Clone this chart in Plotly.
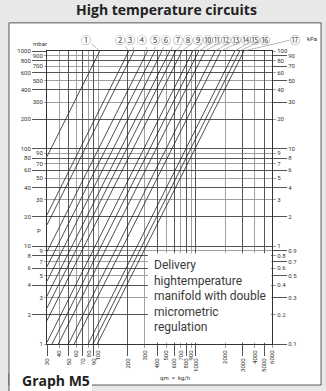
import plotly.graph_objects as go
import numpy as np

# pressure-drop curves: point where each curve enters the chart and where it meets the top line
curve_start_qm = [30, 30, 30, 30, 30, 30, 30, 30, 30, 30, 33.8, 39.2, 49.7, 56.9, 79, 88.5, 98]
curve_start_dp = [83, 21, 16.6, 8.8, 6.2, 4.4, 3.1, 2.34, 1.74, 1.04, 1, 1, 1, 1, 1, 1, 1]
curve_end_qm = [104, 206, 233, 320, 380, 450, 540, 620, 720, 930, 1070, 1240, 1570, 1800, 2500, 2800, 3100]
curve_end_dp = [1000, 1000, 1000, 1000, 1000, 1000, 1000, 1000, 1000, 1000, 1000, 1000, 1000, 1000, 1000, 1000, 1000]

# circled curve numbers above the chart
curve_names = [chr(0x2460 + i) for i in range(17)]  # ① .. ⑰
label_qm = [75, 167, 212, 281, 382, 494, 656, 830, 1050, 1329, 1642, 2030, 2568, 3250, 4017, 5083, 10300]
label_dp = [1327] * 17

# axis ticks (two label rows / columns on each side)
qm_ticks_upper = [40, 60, 80, 100, 300, 500, 700, 900, 2000, 4000, 6000]
qm_ticks_lower = [30, 50, 70, 90, 200, 400, 600, 800, 1000, 3000, 5000]
mbar_ticks_outer = [1000, 800, 600, 400, 200, 100, 80, 60, 40, 20, 10, 8, 6, 4, 2]
mbar_ticks_inner = [900, 700, 500, 300, 90, 70, 50, 30, 9, 7, 5, 3, 1]
kpa_ticks_outer = [90, 70, 50, 30, 10, 8, 6, 4, 2, 0.9, 0.7, 0.5, 0.3, 0.1]
kpa_ticks_inner = [100, 80, 60, 40, 20, 9, 7, 5, 3, 1, 0.8, 0.6, 0.4, 0.2]

TICKFONT = dict(family="Roboto, DejaVu Sans, sans-serif", size=6, color="#333")
DARK = "#555"
LIGHT = "#a0a0a0"

fig = go.Figure()

for x0, y0, x1, y1 in zip(curve_start_qm, curve_start_dp, curve_end_qm, curve_end_dp):
    fig.add_trace(go.Scatter(x=[x0, x1], y=[y0, y1], mode="lines",
                             line=dict(color="#222", width=0.8),
                             hoverinfo="skip", showlegend=False))

# circled numbers with leader lines to the curve tops (annotations on log axes take log10 values)
for name, qm_top, dp_top, qx, qy in zip(curve_names, curve_end_qm, curve_end_dp, label_qm, label_dp):
    fig.add_annotation(x=np.log10(qm_top), y=np.log10(dp_top), ax=np.log10(qx), ay=np.log10(qy),
                       axref="x", ayref="y", xref="x", yref="y", text=name, showarrow=True,
                       arrowhead=0, arrowwidth=0.6, arrowcolor="#888", borderpad=0,
                       font=dict(family="Noto Sans CJK SC, DejaVu Sans, sans-serif", size=10, color="#555"))

# empty traces so the overlaid tick axes get drawn
for xa, ya in [("x2", "y"), ("x", "y2"), ("x", "y3"), ("x", "y4")]:
    fig.add_trace(go.Scatter(x=[None], y=[None], xaxis=xa, yaxis=ya,
                             showlegend=False, hoverinfo="skip"))

xr = [np.log10(30), np.log10(6000)]
common = dict(type="log", zeroline=False, tickfont=TICKFONT, ticks="outside", tickwidth=0.8)

fig.update_layout(
    width=326, height=391,
    margin=dict(l=47, r=54, t=51, b=47),
    paper_bgcolor="#e8e8e8", plot_bgcolor="white",
    xaxis=dict(range=xr, tickvals=qm_ticks_upper, ticktext=[str(v) for v in qm_ticks_upper],
               tickangle=-90, ticklen=3, tickcolor=LIGHT, showgrid=True, gridcolor=LIGHT,
               gridwidth=0.8, showline=True, mirror=True, linecolor="#333", linewidth=1, **common),
    xaxis2=dict(range=xr, overlaying="x", side="bottom", tickvals=qm_ticks_lower,
                ticktext=[str(v) for v in qm_ticks_lower], tickangle=-90, ticklen=11,
                tickcolor=DARK, showgrid=True, gridcolor=DARK, gridwidth=0.8, **common),
    yaxis=dict(range=[0, 3], tickvals=mbar_ticks_outer, ticktext=[str(v) for v in mbar_ticks_outer],
               ticklen=14, tickcolor=DARK, showgrid=True, gridcolor=DARK, gridwidth=0.8,
               showline=True, mirror=True, linecolor="#333", linewidth=1, **common),
    yaxis2=dict(range=[0, 3], overlaying="y", side="left", tickvals=mbar_ticks_inner,
                ticktext=[str(v) for v in mbar_ticks_inner], ticklen=2, tickcolor=LIGHT,
                showgrid=True, gridcolor=LIGHT, gridwidth=0.8, **common),
    yaxis3=dict(range=[-1, 2], overlaying="y", side="right", tickvals=kpa_ticks_outer,
                ticktext=[str(v) for v in kpa_ticks_outer], ticklen=14, tickcolor=DARK,
                showgrid=False, **common),
    yaxis4=dict(range=[-1, 2], overlaying="y", side="right", tickvals=kpa_ticks_inner,
                ticktext=[str(v) for v in kpa_ticks_inner], ticklen=3, tickcolor=LIGHT,
                showgrid=False, **common),
)

# white panel with border, and a white tab under "Graph M5"
fig.add_shape(type="rect", xref="paper", yref="paper", x0=-0.169, x1=1.218, y0=-0.14, y1=1.096,
              fillcolor="white", line=dict(color="#555", width=1), layer="below")
fig.add_shape(type="rect", xref="paper", yref="paper", x0=-0.167, x1=0.2, y0=-0.17, y1=-0.1,
              fillcolor="white", line=dict(width=0), layer="below")
fig.add_shape(type="line", xref="paper", yref="paper", x0=-0.169, x1=-0.169, y0=-0.17, y1=-0.1,
              line=dict(color="#555", width=1), layer="below")

# box behind the description text
fig.add_shape(type="rect", xref="x", yref="y", x0=323, x1=5900, y0=1.03, y1=8.5,
              fillcolor="white", line=dict(width=0), layer="above")

fig.add_annotation(x=np.log10(355), y=np.log10(7.9), xref="x", yref="y", xanchor="left", yanchor="top",
                   align="left",
                   text="Delivery<br>hightemperature<br>manifold with double<br>micrometric<br>regulation",
                   showarrow=False,
                   font=dict(family="Roboto, sans-serif", size=12, color="#3a3a3a"))


def paper_text(x, y, text, font, xanchor="center"):
    fig.add_annotation(x=x, y=y, xref="paper", yref="paper", text=text, showarrow=False,
                       xanchor=xanchor, yanchor="middle", font=font)


paper_text(0.529, 1.14, "<b>High temperature circuits</b>",
           dict(family="Open Sans, sans-serif", size=14, color="#222"))
paper_text(-0.12, -0.126, "<b>Graph M5</b>",
           dict(family="Open Sans, sans-serif", size=14, color="#222"), xanchor="left")
paper_text(0.569, -0.116, "qm  =  kg/h", TICKFONT)
paper_text(-0.031, 1.027, "mbar", TICKFONT)
paper_text(1.178, 1.041, "kPa", TICKFONT)
paper_text(-0.036, 0.389, "P", TICKFONT)

fig.write_html("out.html", config={"displayModeBar": False},
               post_script="document.body.style.margin='0';document.body.style.background='#e8e8e8';")
